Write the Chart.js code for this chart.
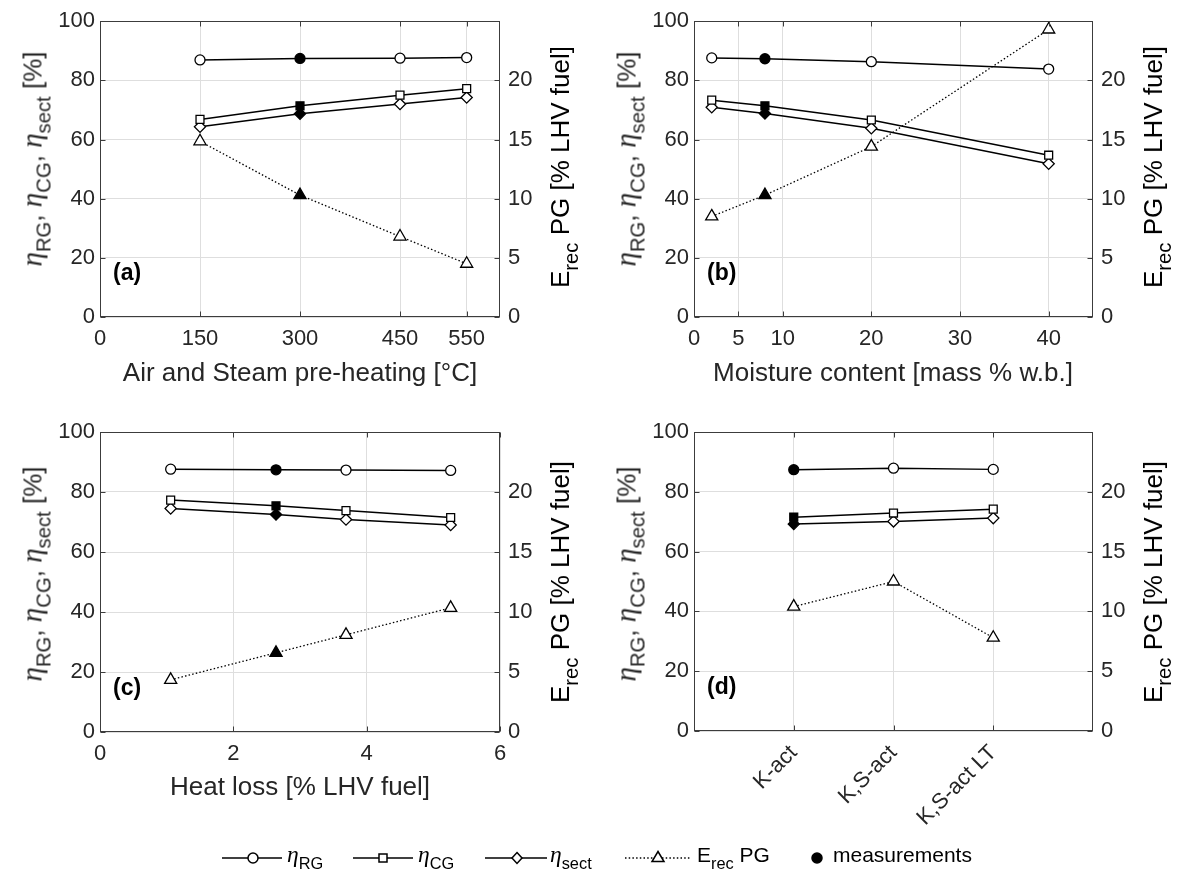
<!DOCTYPE html>
<html>
<head>
<meta charset="utf-8">
<script src="https://cdn.jsdelivr.net/npm/chart.js@4.4.1/dist/chart.umd.min.js"></script>
<style>
  body { margin: 0; background: #fff; }
  #page { position: relative; width: 1178px; height: 872px; overflow: hidden;
          font-family: "Liberation Sans", Arial, sans-serif; color: #262626; }
  canvas { position: absolute; }
  .ttl { position: absolute; white-space: nowrap; font-size: 26px; line-height: 26px;
         transform: translate(-50%, -50%); }
  .rot { transform: translate(-50%, -50%) rotate(-90deg); }
  .dark { color: #000; }
  .eta { font-family: "Liberation Serif", serif; font-style: italic; font-size: 1.12em; }
  sub { font-size: 0.78em; vertical-align: -0.42em; line-height: 0; }
  .leg { position: absolute; top: 844px; font-size: 21px; line-height: 21px; white-space: nowrap; color: #000; }
  #legsvg { position: absolute; left: 0; top: 840px; }
</style>
</head>
<body>
<div id="page"></div>
<script>
// (a) air and steam pre-heating
const xA = [150, 300, 450, 550];
const rgA = [86.9, 87.4, 87.5, 87.7];
const cgA = [66.8, 71.4, 75.0, 77.2];
const sectA = [64.3, 68.7, 72.0, 74.2];
const erecA = [14.85, 10.3, 6.8, 4.5];

// (b) moisture content
const xB = [2, 8, 20, 40];
const rgB = [87.6, 87.3, 86.3, 83.8];
const cgB = [73.3, 71.4, 66.6, 54.7];
const sectB = [70.9, 68.8, 63.8, 51.8];
const erecB = [8.5, 10.3, 14.4, 24.3];

// (c) heat loss
const xC = [1.06, 2.64, 3.69, 5.26];
const rgC = [87.6, 87.4, 87.3, 87.2];
const cgC = [77.3, 75.4, 73.8, 71.5];
const sectC = [74.5, 72.5, 70.8, 69.0];
const erecC = [4.35, 6.6, 8.1, 10.35];

// (d) catalyst cases
const categoriesD = ['K-act', 'K,S-act', 'K,S-act LT'];
const rgD = [87.4, 87.9, 87.5];
const cgD = [71.5, 72.9, 74.2];
const sectD = [69.2, 70.1, 71.2];
const erecD = [10.4, 12.5, 7.8];

// tick labels
const xTicksA = [0, 150, 300, 450, 550];
const xTicksB = [0, 5, 10, 20, 30, 40];
const xTicksC = [0, 2, 4, 6];
const leftTicks = [0, 20, 40, 60, 80, 100];
const rightTicks = [0, 5, 10, 15, 20];

const BORDER = '#3c3c3c';
const GRID = '#dedede';

Chart.defaults.font.family = '"Liberation Sans", Arial, sans-serif';
Chart.defaults.font.size = 22;
Chart.defaults.color = '#262626';

const boxPlugin = {
  id: 'boxPlugin',
  afterDraw(chart, args, opts) {
    const {ctx, chartArea: a, scales} = chart;
    const L = Math.round(a.left) + 0.5, R = Math.round(a.right) - 0.5;
    const T = Math.round(a.top) + 0.5, B = Math.round(a.bottom) - 0.5;
    const tk = 5;
    ctx.save();
    ctx.strokeStyle = BORDER;
    ctx.lineWidth = 1;
    ctx.strokeRect(L, T, R - L, B - T);
    ctx.beginPath();
    scales.x.ticks.forEach(t => {
      const px = Math.round(scales.x.getPixelForValue(t.value)) + 0.5;
      ctx.moveTo(px, B); ctx.lineTo(px, B - tk);
      ctx.moveTo(px, T); ctx.lineTo(px, T + tk);
    });
    scales.y.ticks.forEach(t => {
      const py = Math.round(scales.y.getPixelForValue(t.value)) + 0.5;
      ctx.moveTo(L, py); ctx.lineTo(L + tk, py);
    });
    scales.y2.ticks.forEach(t => {
      const py = Math.round(scales.y2.getPixelForValue(t.value)) + 0.5;
      ctx.moveTo(R, py); ctx.lineTo(R - tk, py);
    });
    ctx.stroke();
    ctx.fillStyle = '#000';
    ctx.font = 'bold 23px "Liberation Sans", Arial, sans-serif';
    ctx.textBaseline = 'middle';
    ctx.fillText(opts.label, a.left + 13, a.bottom - 43);
    ctx.restore();
  }
};

function series(label, xs, ys, style, r, fills, axis, dotted) {
  return {
    label: label,
    yAxisID: axis,
    data: xs.map((x, i) => ({x: x, y: ys[i]})),
    borderColor: '#000',
    borderWidth: dotted ? 1.3 : 1.5,
    borderDash: dotted ? [1.5, 2.2] : [],
    pointStyle: style,
    pointRadius: r,
    pointHoverRadius: r,
    pointBorderWidth: 1.3,
    pointBorderColor: '#000',
    pointBackgroundColor: fills,
    clip: false,
    tension: 0
  };
}

const panels = [
  {label: '(a)', box: [0, 0, 589, 400], plot: [100, 17, 500, 317], xMax: 600, xTicks: xTicksA,
   x: xA, rg: rgA, cg: cgA, sect: sectA, erec: erecA, meas: 1, erecMeas: true},
  {label: '(b)', box: [589, 0, 589, 400], plot: [694, 17, 1093, 317], xMax: 45, xTicks: xTicksB,
   x: xB, rg: rgB, cg: cgB, sect: sectB, erec: erecB, meas: 1, erecMeas: true},
  {label: '(c)', box: [0, 400, 589, 420], plot: [100, 432, 500, 732], xMax: 6, xTicks: xTicksC,
   x: xC, rg: rgC, cg: cgC, sect: sectC, erec: erecC, meas: 1, erecMeas: true},
  {label: '(d)', box: [589, 400, 589, 472], plot: [694, 432, 1093, 731], xMax: categoriesD.length + 1,
   xTicks: categoriesD.map((c, i) => i + 1), xLabel: v => categoriesD[v - 1], rot: 45,
   x: categoriesD.map((c, i) => i + 1), rg: rgD, cg: cgD, sect: sectD, erec: erecD, meas: 0, erecMeas: false}
];

const page = document.getElementById('page');

panels.forEach(p => {
  const [bx, by, bw, bh] = p.box;
  const [pl, pt, pr, pb] = p.plot;
  const canvas = document.createElement('canvas');
  canvas.width = bw; canvas.height = bh;
  canvas.style.left = bx + 'px'; canvas.style.top = by + 'px';
  page.appendChild(canvas);

  const fills = p.x.map((v, i) => i === p.meas ? '#000' : '#fff');
  const erecFills = p.x.map((v, i) => (i === p.meas && p.erecMeas) ? '#000' : '#fff');
  const rot = p.rot || 0;

  new Chart(canvas, {
    type: 'line',
    data: {
      datasets: [
        series('eta_RG', p.x, p.rg, 'circle', 5, fills, 'y', false),
        series('eta_CG', p.x, p.cg, 'rect', 5.6, fills, 'y', false),
        series('eta_sect', p.x, p.sect, 'rectRot', 5.6, fills, 'y', false),
        series('E_rec PG', p.x, p.erec, 'triangle', 7, erecFills, 'y2', true)
      ]
    },
    plugins: [boxPlugin],
    options: {
      responsive: false,
      animation: false,
      events: [],
      layout: {padding: {top: pt - by, left: 0, right: 0, bottom: 0}},
      plugins: {
        legend: {display: false},
        tooltip: {enabled: false},
        boxPlugin: {label: p.label}
      },
      scales: {
        x: {
          type: 'linear', min: 0, max: p.xMax,
          border: {display: false},
          grid: {color: GRID, drawTicks: false},
          ticks: {padding: 9, autoSkip: false, maxRotation: rot, minRotation: rot,
                  callback: p.xLabel || (v => v)},
          afterBuildTicks: s => { s.ticks = p.xTicks.map(v => ({value: v})); },
          afterFit: s => { s.height = by + bh - pb; }
        },
        y: {
          position: 'left', min: 0, max: 100,
          border: {display: false},
          grid: {color: GRID, drawTicks: false},
          ticks: {padding: 5, callback: v => v},
          afterBuildTicks: s => { s.ticks = leftTicks.map(v => ({value: v})); },
          afterFit: s => { s.width = pl - bx; }
        },
        y2: {
          position: 'right', min: 0, max: 25,
          border: {display: false},
          grid: {display: false, drawTicks: false},
          ticks: {padding: 8, callback: v => v},
          afterBuildTicks: s => { s.ticks = rightTicks.map(v => ({value: v})); },
          afterFit: s => { s.width = bx + bw - pr; }
        }
      }
    }
  });

  // axis titles
  const mid = (pt + pb) / 2;
  const left = document.createElement('div');
  left.className = 'ttl rot';
  left.style.left = (pl - 68) + 'px';
  left.style.top = (mid - 8) + 'px';
  left.innerHTML = '<span class="eta">η</span><sub>RG</sub>, <span class="eta">η</span><sub>CG</sub>, ' +
                   '<span class="eta">η</span><sub>sect</sub> [%]';
  page.appendChild(left);

  const right = document.createElement('div');
  right.className = 'ttl rot dark';
  right.style.left = (pr + 60) + 'px';
  right.style.top = mid + 'px';
  right.innerHTML = 'E<sub>rec</sub> PG [% LHV fuel]';
  page.appendChild(right);
});

const xTitles = [
  ['Air and Steam pre-heating [°C]', 300, 372],
  ['Moisture content [mass % w.b.]', 893, 372],
  ['Heat loss [% LHV fuel]', 300, 786]
];
xTitles.forEach(([txt, x, y]) => {
  const d = document.createElement('div');
  d.className = 'ttl';
  d.style.left = x + 'px';
  d.style.top = y + 'px';
  d.textContent = txt;
  page.appendChild(d);
});

// legend: line samples
const svgNS = 'http://www.w3.org/2000/svg';
const svg = document.createElementNS(svgNS, 'svg');
svg.setAttribute('id', 'legsvg');
svg.setAttribute('width', '1178');
svg.setAttribute('height', '32');
svg.innerHTML =
  '<g stroke="#000" stroke-width="1.5" fill="#fff">' +
  '<line x1="222" y1="18" x2="282" y2="18"/><circle cx="253" cy="18" r="5"/>' +
  '<line x1="353" y1="18" x2="413" y2="18"/><rect x="379" y="14" width="8" height="8"/>' +
  '<line x1="485" y1="18" x2="547" y2="18"/><polygon points="517,12.5 522,18 517,23.5 512,18"/>' +
  '<line x1="625" y1="18" x2="690" y2="18" stroke-width="1.3" stroke-dasharray="1.5 2.2"/>' +
  '<polygon points="658,11.5 664,21.5 652,21.5"/>' +
  '<circle cx="817" cy="18" r="5" fill="#000"/>' +
  '</g>';
page.appendChild(svg);

const legTexts = [
  ['<span class="eta">η</span><sub>RG</sub>', 287],
  ['<span class="eta">η</span><sub>CG</sub>', 418],
  ['<span class="eta">η</span><sub>sect</sub>', 550],
  ['E<sub>rec</sub> PG', 697],
  ['measurements', 833]
];
legTexts.forEach(([html, x]) => {
  const s = document.createElement('div');
  s.className = 'leg';
  s.style.left = x + 'px';
  s.innerHTML = html;
  page.appendChild(s);
});
</script>
</body>
</html>
